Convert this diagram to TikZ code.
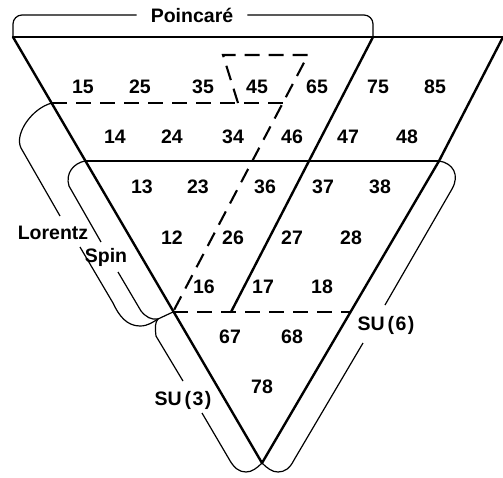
\documentclass[tikz,border=0pt]{standalone}
\usepackage{fontspec}
\setmainfont{Liberation Sans}
\newcommand{\sulab}[1]{SU\hspace{3pt}(\hspace{1.5pt}#1\hspace{1.5pt})}
\begin{document}
\begin{tikzpicture}[x=1pt,y=-1pt,
  mainline/.style={line width=2.4pt,line cap=round},
  dashline/.style={line width=2.1pt,dash pattern=on 15pt off 9pt},
  brk/.style={line width=1.2pt,line join=round},
  lbl/.style={font=\fontsize{19.5}{20}\selectfont\bfseries,inner sep=0pt}]
\useasboundingbox (0,0) rectangle (503,477);
% vertices
\coordinate (TL) at (13,37);
\coordinate (TR) at (503,37);
\coordinate (TM) at (373,37);
\coordinate (A) at (262,463);
\coordinate (L1) at (52,103);
\coordinate (L2) at (85,161);
\coordinate (L3) at (173,312);
\coordinate (R2) at (439,161);
\coordinate (R3) at (350,312);
\coordinate (M3) at (231,312);
\coordinate (D1) at (223,55);
\coordinate (D2) at (308,55);
\coordinate (D3) at (238,103);
\coordinate (D4) at (283,103);
\coordinate (C) at (158,319);
% solid lines
\draw[mainline] (TL) -- (TR);
\draw[mainline] (TL) -- (A);
\draw[mainline] (A) -- (R2) -- (TR);
\draw[mainline] (TM) -- (M3);
\draw[mainline] (L2) -- (R2);
% dashed lines
\draw[dashline] (L1) -- (D4);
\draw[dashline] (D3) -- (D1) -- (D2) -- (L3);
\draw[dashline] (L3) -- (R3);
% labels
\node[lbl] (poin) at (192,15) {Poincaré};
\node[lbl] (lor) at (53,233) {Lorentz};
\node[lbl] (spin) at (106,257) {Spin};
\node[lbl] (su3) at (183,400) {\sulab{3}};
\node[lbl] (su6) at (386,325) {\sulab{6}};
% brackets
\draw[brk,rounded corners=9pt] ([xshift=-14pt]poin.west) -| (TL);
\draw[brk,rounded corners=9pt] ([xshift=14pt]poin.east) -| (TM);
\draw[brk] (L1) .. controls (32,108) and (14,134) .. (21,148) -- (60,216);
\draw[brk] (80,247) -- (113,303) .. controls (119,316) and (127,326) .. (140,326) .. controls (148,326) and (153,322) .. (C);
\draw[brk] (L2) .. controls (74,163) and (65,173) .. (69,186) -- (101,242);
\draw[brk] (118,272) -- (141,311) .. controls (146,317) and (151,320) .. (C);
\draw[brk] (C) -- (L3);
\draw[brk] (C) .. controls (155,322) and (155,328) .. (156,336) -- (183,381);
\draw[brk] (202,413) -- (229,459) .. controls (234,468) and (239,472) .. (246,472) .. controls (252,472) and (257,468) .. (A);
\draw[brk] (A) .. controls (267,468) and (272,472) .. (278,472) .. controls (285,472) and (290,468) .. (294,460) -- (363,343);
\draw[brk] (385,305) -- (452,189) .. controls (460,175) and (453,163) .. (R2);
% numbers
\node[lbl] (n15) at (83,87) {15};
\node[lbl] (n25) at (140,87) {25};
\node[lbl] (n35) at (203,87) {35};
\node[lbl] (n45) at (257,87) {45};
\node[lbl] (n65) at (317,87) {65};
\node[lbl] (n75) at (378,87) {75};
\node[lbl] (n85) at (435,87) {85};
\node[lbl] (n14) at (115,137) {14};
\node[lbl] (n24) at (172,137) {24};
\node[lbl] (n34) at (233,137) {34};
\node[lbl] (n46) at (292,137) {46};
\node[lbl] (n47) at (348,137) {47};
\node[lbl] (n48) at (407,137) {48};
\node[lbl] (n13) at (142,187) {13};
\node[lbl] (n23) at (198,187) {23};
\node[lbl] (n36) at (265,187) {36};
\node[lbl] (n37) at (323,187) {37};
\node[lbl] (n38) at (380,187) {38};
\node[lbl] (n12) at (172,238) {12};
\node[lbl] (n26) at (233,238) {26};
\node[lbl] (n27) at (292,238) {27};
\node[lbl] (n28) at (351,238) {28};
\node[lbl] (n16) at (204,287) {16};
\node[lbl] (n17) at (263,287) {17};
\node[lbl] (n18) at (322,287) {18};
\node[lbl] (n67) at (230,337) {67};
\node[lbl] (n68) at (292,337) {68};
\node[lbl] (n78) at (262,387) {78};
\end{tikzpicture}
\end{document}
